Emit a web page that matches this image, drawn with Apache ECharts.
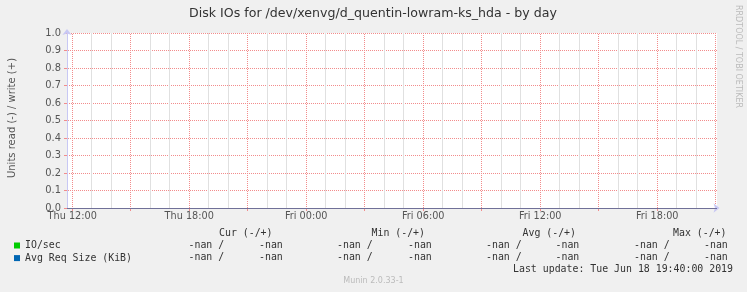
<!DOCTYPE html>
<html>
<head>
<meta charset="utf-8">
<script src="https://cdn.jsdelivr.net/npm/echarts@6/dist/echarts.min.js"></script>
<style>
html,body{margin:0;padding:0;background:#f0f0f0;}
#c{width:747px;height:292px;}
</style>
</head>
<body>
<div id="c"></div>
<script>
// ---- data ----
var titleText = 'Disk IOs for /dev/xenvg/d_quentin-lowram-ks_hda - by day';
var yAxisName = 'Units read (-) / write (+)';
// x axis in hours since Thu 00:00 (Thu 11:44 .. Fri 21:04)
var xMinHours = 11 + 44 / 60;
var xMaxHours = 45 + 4 / 60;
var majorTickHours = [12, 15, 18, 21, 24, 27, 30, 33, 36, 39, 42, 45];
var minorTickHours = [13, 14, 16, 17, 19, 20, 22, 23, 25, 26, 28, 29, 31, 32, 34, 35, 37, 38, 40, 41, 43, 44];
var labelHours = [12, 18, 24, 30, 36, 42];
var xTickLabels = ['Thu 12:00', 'Thu 18:00', 'Fri 00:00', 'Fri 06:00', 'Fri 12:00', 'Fri 18:00'];
var yTicks = [0, 0.1, 0.2, 0.3, 0.4, 0.5, 0.6, 0.7, 0.8, 0.9, 1.0];
var seriesNames = ['IO/sec', 'Avg Req Size (KiB)'];
var seriesColors = ['#00cc00', '#0066b3'];
// all values are NaN in the source (no data points)
var ioSecValues = [];
var avgReqValues = [];
var colHeaders = ['Cur (-/+)', 'Min (-/+)', 'Avg (-/+)', 'Max (-/+)'];
var rowValues = [
  ['-nan', '-nan', '-nan', '-nan', '-nan', '-nan', '-nan', '-nan'],
  ['-nan', '-nan', '-nan', '-nan', '-nan', '-nan', '-nan', '-nan']
];
var lastUpdate = 'Last update: Tue Jun 18 19:40:00 2019';
var versionText = 'Munin 2.0.33-1';
var creditText = 'RRDTOOL / TOBI OETIKER';

// ---- layout / style ----
var MONO = '"DejaVu Sans Mono", monospace';
var SANS = '"DejaVu Sans", sans-serif';
var headerX = [219, 371.5, 522.5, 673];
var pairX = [188.5, 337, 486, 634];
var valX = [259, 408, 555.5, 704];
var rowY = [245.3, 257.9];

function dotPattern(color) {
  var cv = document.createElement('canvas');
  cv.width = 2; cv.height = 2;
  var ctx = cv.getContext('2d');
  ctx.fillStyle = color;
  ctx.fillRect(0, 0, 1, 1);
  ctx.fillRect(1, 1, 1, 1);
  return {image: cv, repeat: 'repeat'};
}
var MAJOR = dotPattern('#f28c8c');
var MINOR_SOLID = '#e0e0e0';
var TICK_MAJOR = '#f28c8c';

var chart = echarts.init(document.getElementById('c'), null, {renderer: 'canvas'});

var graphics = [];
graphics.push({type:'text', x:373, y:13.5, style:{text:titleText, font:'12.6px ' + SANS, fill:'#333', align:'center', verticalAlign:'middle'}});
graphics.push({type:'text', x:12, y:118, rotation:Math.PI/2, style:{text:yAxisName, font:'10px ' + SANS, fill:'#555', align:'center', verticalAlign:'middle'}});
graphics.push({type:'text', x:738.5, y:56.5, rotation:-Math.PI/2, style:{text:creditText, font:'8px ' + SANS, fill:'#bbb', align:'center', verticalAlign:'middle'}});
colHeaders.forEach(function(h, i){
  graphics.push({type:'text', x:headerX[i], y:233.3, style:{text:h, font:'9.9px ' + MONO, fill:'#333', align:'left', verticalAlign:'middle'}});
});
rowValues.forEach(function(row, r){
  for (var k = 0; k < 4; k++) {
    graphics.push({type:'text', x:pairX[k], y:rowY[r], style:{text:row[2*k] + ' /', font:'9.9px ' + MONO, fill:'#333', align:'left', verticalAlign:'middle'}});
    graphics.push({type:'text', x:valX[k], y:rowY[r], style:{text:row[2*k+1], font:'9.9px ' + MONO, fill:'#333', align:'left', verticalAlign:'middle'}});
  }
});
graphics.push({type:'text', x:733, y:269.5, style:{text:lastUpdate, font:'9.9px ' + MONO, fill:'#333', align:'right', verticalAlign:'middle'}});
graphics.push({type:'text', x:373.5, y:280.5, style:{text:versionText, font:'8px ' + SANS, fill:'#bbb', align:'center', verticalAlign:'middle'}});

function hourLabel(v) {
  for (var i = 0; i < labelHours.length; i++) {
    if (Math.abs(labelHours[i] - v) < 1e-6) return xTickLabels[i];
  }
  return '';
}

var option = {
  backgroundColor: '#f0f0f0',
  animation: false,
  grid: {left:67, top:33, width:650, height:175, show:true, backgroundColor:'#ffffff', borderWidth:0, containLabel:false},
  legend: {
    data: seriesNames, orient:'vertical', left:14, top:239.5, padding:0,
    itemWidth:6, itemHeight:6, itemGap:0.6, icon:'rect',
    textStyle:{fontFamily:MONO, fontSize:9.9, color:'#333', lineHeight:12},
    selectedMode:false
  },
  xAxis: {
    type:'value', position:'bottom', min:xMinHours, max:xMaxHours,
    axisLine:{show:true, onZero:false, lineStyle:{color:'#c8c8f4', width:1}, symbol:['none','arrow'], symbolSize:[7,6], symbolOffset:[0,2.5]},
    axisTick:{show:true, length:3, customValues:majorTickHours, lineStyle:{color:TICK_MAJOR}},
    splitLine:{show:true, lineStyle:{color:MAJOR, width:1, type:'solid'}},
    axisLabel:{show:true, margin:3, customValues:labelHours, hideOverlap:false,
      fontFamily:SANS, fontSize:9.7, color:'#555', formatter:hourLabel}
  },
  yAxis: {
    type:'value', min:yTicks[0], max:yTicks[yTicks.length-1], interval:0.1,
    axisLine:{show:true, lineStyle:{color:'#c8c8f4', width:1}, symbol:['none','arrow'], symbolSize:[7,6], symbolOffset:[0,4]},
    axisTick:{show:true, length:3, lineStyle:{color:TICK_MAJOR}},
    splitLine:{show:true, lineStyle:{color:MAJOR, width:1, type:'solid'}},
    axisLabel:{margin:6, fontFamily:SANS, fontSize:9.9, color:'#555', formatter:function(v){return v.toFixed(1);}}
  },
  series: [
    {name:seriesNames[0], type:'line', data:ioSecValues, showSymbol:false, itemStyle:{color:seriesColors[0]}, lineStyle:{color:seriesColors[0]},
     markLine:{silent:true, symbol:'none', label:{show:false}, z:3, lineStyle:{color:'#707098', width:1, type:'solid'}, data:[{yAxis:0}]}},
    {name:seriesNames[1], type:'line', data:avgReqValues, showSymbol:false, itemStyle:{color:seriesColors[1]}, lineStyle:{color:seriesColors[1]},
     markLine:{silent:true, symbol:'none', label:{show:false}, z:1, lineStyle:{color:MINOR_SOLID, width:1, type:'solid'},
       data:minorTickHours.map(function(h){ return {xAxis:h}; })}}
  ],
  graphic: graphics
};
chart.setOption(option);
</script>
</body>
</html>
